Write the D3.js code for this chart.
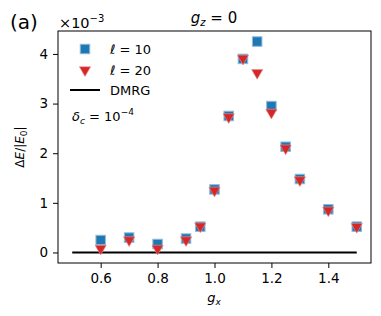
<!DOCTYPE html>
<html>
<head>
<meta charset="utf-8">
<script src="https://cdn.jsdelivr.net/npm/d3@7"></script>
<style>
  body { margin: 0; background: #fff; }
  text { font-family: "DejaVu Sans", sans-serif; }
</style>
</head>
<body>
<svg id="chart" width="381" height="316"></svg>
<script>
// values in units of 1e-3
const gx = [0.6, 0.7, 0.8, 0.9, 0.95, 1.0, 1.05, 1.1, 1.15, 1.2, 1.25, 1.3, 1.4, 1.5];
const l10 = [0.25, 0.30, 0.17, 0.28, 0.52, 1.27, 2.75, 3.90, 4.25, 2.95, 2.13, 1.48, 0.87, 0.52];
const l20 = [0.08, 0.25, 0.08, 0.25, 0.53, 1.25, 2.73, 3.91, 3.62, 2.82, 2.10, 1.46, 0.85, 0.52];
const dmrgX = [0.5, 1.5];
const xTicks = [0.6, 0.8, 1.0, 1.2, 1.4];
const yTicks = [0, 1, 2, 3, 4];

const svg = d3.select("#chart");
const mLeft = 58, mRight = 371, mTop = 31, mBottom = 263;

const x = d3.scaleLinear().domain([0.45, 1.55]).range([mLeft, mRight]);
const y = d3.scaleLinear().domain([-0.2125, 4.4625]).range([mBottom, mTop]);

// axes
svg.append("g")
    .attr("transform", `translate(0,${mBottom})`)
    .call(d3.axisBottom(x).tickValues(xTicks).tickFormat(d3.format(".1f")).tickSizeOuter(0).tickSize(5).tickPadding(5))
    .call(g => g.select(".domain").remove())
    .call(g => g.selectAll("text").style("font-size", "13.5px").style("font-family", "DejaVu Sans"));

svg.append("g")
    .attr("transform", `translate(${mLeft},0)`)
    .call(d3.axisLeft(y).tickValues(yTicks).tickFormat(d3.format("d")).tickSizeOuter(0).tickSize(5).tickPadding(5))
    .call(g => g.select(".domain").remove())
    .call(g => g.selectAll("text").style("font-size", "13.5px").style("font-family", "DejaVu Sans"));

svg.append("rect")
    .attr("x", mLeft).attr("y", mTop)
    .attr("width", mRight - mLeft).attr("height", mBottom - mTop)
    .attr("fill", "none").attr("stroke", "#000").attr("stroke-width", 1);

// DMRG line
svg.append("line")
    .attr("x1", x(dmrgX[0])).attr("x2", x(dmrgX[1]))
    .attr("y1", y(0)).attr("y2", y(0))
    .attr("stroke", "#000").attr("stroke-width", 2);

const sq = 9.5;
svg.append("g").selectAll("rect")
    .data(gx.map((d, i) => [d, l10[i]]))
    .enter()
    .append("rect")
    .attr("x", d => x(d[0]) - sq / 2)
    .attr("y", d => y(d[1]) - sq / 2)
    .attr("width", sq).attr("height", sq)
    .attr("fill", "#1f77b4")
    .attr("stroke", "#8fbbd9").attr("stroke-width", 1);

const tri = d3.symbol().type(d3.symbolTriangle).size(55);
svg.append("g").selectAll("path")
    .data(gx.map((d, i) => [d, l20[i]]))
    .enter()
    .append("path")
    .attr("d", tri)
    .attr("transform", d => `translate(${x(d[0])},${y(d[1])}) rotate(180)`)
    .attr("fill", "#d62728")
    .attr("stroke", "#eb9393").attr("stroke-width", 0.6);

// legend
const lg = svg.append("g");
lg.append("rect").attr("x", 85 - sq / 2).attr("y", 49 - sq / 2).attr("width", sq).attr("height", sq)
    .attr("fill", "#1f77b4").attr("stroke", "#8fbbd9");
lg.append("path").attr("d", tri).attr("transform", "translate(85,70) rotate(180)")
    .attr("fill", "#d62728").attr("stroke", "#eb9393").attr("stroke-width", 0.6);
lg.append("line").attr("x1", 70).attr("x2", 100).attr("y1", 90).attr("y2", 90)
    .attr("stroke", "#000").attr("stroke-width", 2);

const legText = (yy, parts) => {
  const t = lg.append("text").attr("x", 110).attr("y", yy).style("font-size", "13px");
  parts.forEach(p => t.append("tspan").style("font-style", p[1] ? "italic" : "normal").text(p[0]));
};
legText(54, [["ℓ", true], [" = 10", false]]);
legText(75, [["ℓ", true], [" = 20", false]]);
legText(95, [["DMRG", false]]);

const dt = svg.append("text").attr("x", 72).attr("y", 121).style("font-size", "13px");
dt.append("tspan").style("font-style", "italic").text("δ");
dt.append("tspan").style("font-style", "italic").style("font-size", "9px").attr("dy", 3).text("c");
dt.append("tspan").attr("dy", -3).text(" = 10");
dt.append("tspan").style("font-size", "9px").attr("dy", -6).text("−4");

// title and labels
const title = svg.append("text").attr("x", 214).attr("y", 23).attr("text-anchor", "middle").style("font-size", "15px");
title.append("tspan").style("font-style", "italic").text("g");
title.append("tspan").style("font-style", "italic").style("font-size", "10px").attr("dy", 3).text("z");
title.append("tspan").attr("dy", -3).text(" = 0");

svg.append("text").attr("x", 10).attr("y", 29).style("font-size", "20px").text("(a)");

const mult = svg.append("text").attr("x", 59).attr("y", 28).style("font-size", "14.5px");
mult.append("tspan").text("×10");
mult.append("tspan").style("font-size", "10px").attr("dy", -6).text("−3");

const xl = svg.append("text").attr("x", 214).attr("y", 302).attr("text-anchor", "middle").style("font-size", "13px");
xl.append("tspan").style("font-style", "italic").text("g");
xl.append("tspan").style("font-style", "italic").style("font-size", "9px").attr("dy", 3).text("x");

const yl = svg.append("text").attr("transform", "translate(24,147) rotate(-90)").attr("text-anchor", "middle").style("font-size", "12px");
yl.append("tspan").text("Δ");
yl.append("tspan").style("font-style", "italic").text("E");
yl.append("tspan").text("/|");
yl.append("tspan").style("font-style", "italic").text("E");
yl.append("tspan").style("font-size", "9px").attr("dy", 3).text("0");
yl.append("tspan").attr("dy", -3).text("|");
</script>
</body>
</html>
